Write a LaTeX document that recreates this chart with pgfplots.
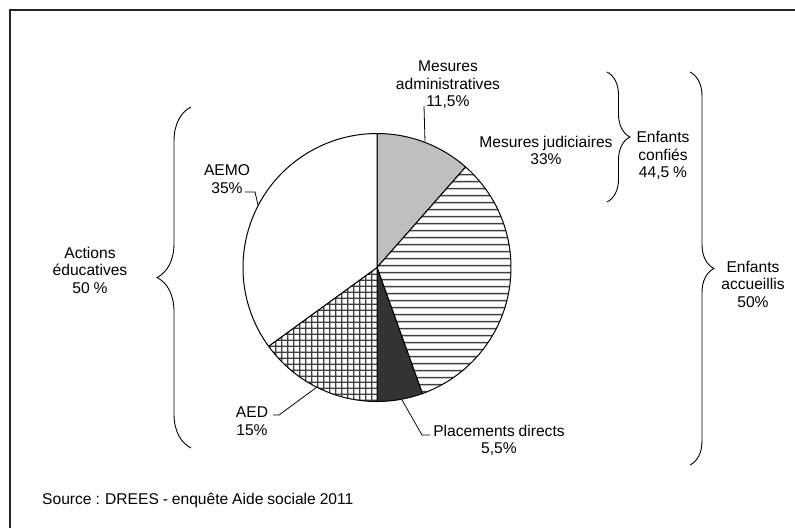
\documentclass[border=0pt]{standalone}
\usepackage{pgfplots}
\pgfplotsset{compat=1.18}
\usepackage{pgfplotstable}
\usepackage{fontspec}
\setmainfont{Liberation Sans}
\usetikzlibrary{patterns,decorations.pathreplacing}

% hatching used by the slices
\pgfdeclarepatternformonly{hlines}{\pgfqpoint{0pt}{0pt}}{\pgfqpoint{4pt}{7.4pt}}{\pgfqpoint{4pt}{7.4pt}}{%
  \pgfsetlinewidth{1.6pt}%
  \pgfpathmoveto{\pgfqpoint{-1pt}{3.7pt}}\pgfpathlineto{\pgfqpoint{5pt}{3.7pt}}\pgfusepath{stroke}}
\pgfdeclarepatternformonly{grid5}{\pgfqpoint{0pt}{0pt}}{\pgfqpoint{5.7pt}{5.7pt}}{\pgfqpoint{5.7pt}{5.7pt}}{%
  \pgfsetlinewidth{1.3pt}%
  \pgfpathmoveto{\pgfqpoint{-1pt}{2.85pt}}\pgfpathlineto{\pgfqpoint{6.7pt}{2.85pt}}%
  \pgfpathmoveto{\pgfqpoint{2.85pt}{-1pt}}\pgfpathlineto{\pgfqpoint{2.85pt}{6.7pt}}\pgfusepath{stroke}}

\newcommand\lab{\fontsize{15.6}{17.5}\selectfont\spaceskip=0.25em plus 0.05em}

% start (cumulated %), share (%), style
\newcommand\slice[3]{%
  \pgfmathsetmacro\sa{90-3.6*#1}%
  \pgfmathsetmacro\sb{90-3.6*(#1+#2)}%
  \edef\tmp{\noexpand\filldraw[line width=1pt,#3] (axis cs:377,-267.5) -- ++(\sa:134pt)
    arc[start angle=\sa, end angle=\sb, radius=134pt] -- cycle;}\tmp}

\begin{document}
\begin{tikzpicture}
\path[use as bounding box] (0,0) rectangle (795pt,-528pt);
\begin{axis}[
    at={(0pt,0pt)}, anchor=north west,
    width=795pt, height=528pt, scale only axis,
    xmin=0, xmax=795, ymin=-528, ymax=0,
    hide axis, clip=false]
  % frame
  \draw[line width=1.4pt, black!85] (axis cs:10,-528) -- (axis cs:10,-10) -- (axis cs:795,-10);
  % slices: admin, judiciaires, placements, AED, AEMO
  \slice{0}{11.5}{fill=black!25}
  \slice{11.5}{33}{preaction={fill=white}, pattern=hlines, pattern color=black!75}
  \slice{44.5}{5.5}{fill=black!80}
  \slice{50}{15}{preaction={fill=white}, pattern=grid5, pattern color=black!75}
  \slice{65}{35}{fill=white}
  % leader lines
  \draw[line width=0.8pt] (axis cs:424,-106) -- (axis cs:425,-141.5);
  \draw[line width=0.8pt] (axis cs:245,-192) -- (axis cs:255,-192) -- (axis cs:258,-205);
  \draw[line width=0.8pt] (axis cs:273,-415) -- (axis cs:279,-415) -- (axis cs:317,-387);
  \draw[line width=0.8pt] (axis cs:402,-400) -- (axis cs:422,-435) -- (axis cs:430,-435);
  % braces
  \draw[line width=0.9pt, decorate, decoration={brace, amplitude=34pt}] (axis cs:191,-448) -- (axis cs:191,-107);
  \draw[line width=0.9pt, decorate, decoration={brace, amplitude=23pt}] (axis cs:607,-72) -- (axis cs:607,-202);
  \draw[line width=0.9pt, decorate, decoration={brace, amplitude=24pt}] (axis cs:690,-72) -- (axis cs:690,-465);
  % labels
  \node[align=center, font=\lab] at (axis cs:448,-85) {Mesures\\administratives\\11,5\%};
  \node[align=center, font=\lab] at (axis cs:546,-150.5) {Mesures judiciaires\\33\%};
  \node[align=center, font=\lab] at (axis cs:663,-155.5) {Enfants\\confiés\\44,5 \%};
  \node[align=center, font=\lab] at (axis cs:753,-284) {Enfants\\accueillis\\50\%};
  \node[align=center, font=\lab] at (axis cs:90,-270) {Actions\\éducatives\\50 \%};
  \node[align=center, font=\lab] at (axis cs:227,-179) {AEMO\\35\%};
  \node[align=center, font=\lab] at (axis cs:252,-421) {AED\\15\%};
  \node[align=center, font=\lab] at (axis cs:499,-440.5) {Placements directs\\5,5\%};
  \node[anchor=west, font=\lab, inner sep=0pt] at (axis cs:42,-500) {Source : DREES - enquête Aide sociale 2011};
\end{axis}
\end{tikzpicture}
\end{document}
